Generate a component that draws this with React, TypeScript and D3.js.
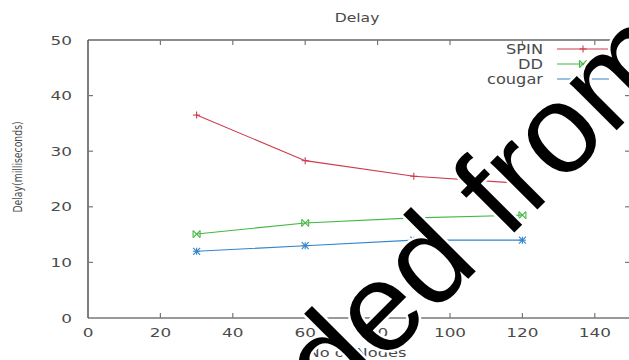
import React from 'react';
import * as d3 from 'd3';

// values
const nodes = [30, 60, 90, 120];
const spin = [36.5, 28.3, 25.5, 24.2];
const dd = [15.1, 17.1, 18.0, 18.5];
const cougar = [12.0, 13.0, 14.0, 14.0];

const xTicks = [0, 20, 40, 60, 80, 100, 120, 140];
const yTicks = [0, 10, 20, 30, 40, 50];

const series = [
  { name: 'SPIN', values: spin, color: '#cc3b4c', marker: 'plus' },
  { name: 'DD', values: dd, color: '#44b844', marker: 'cross' },
  { name: 'cougar', values: cougar, color: '#3385cc', marker: 'star' },
];

const W = 629;
const H = 360;
const font = '"DejaVu Sans", Verdana, sans-serif';
const textColor = '#4a4a4a';

// the source image is stretched sideways, so text is widened a little
const T = ({ x, y, size, anchor = 'start', sx = 1.35, children }: any) => (
  <text
    transform={`translate(${x},${y}) scale(${sx},1)`}
    textAnchor={anchor}
    fontSize={size}
    fill={textColor}
  >
    {children}
  </text>
);

const Marker = ({ type, x, y, color }: { type: string; x: number; y: number; color: string }) => {
  const s = 3.5;
  if (type === 'plus') {
    return (
      <g stroke={color} strokeWidth={1.1}>
        <line x1={x - s} y1={y} x2={x + s} y2={y} />
        <line x1={x} y1={y - s} x2={x} y2={y + s} />
      </g>
    );
  }
  if (type === 'cross') {
    return (
      <g stroke={color} strokeWidth={1.1}>
        <line x1={x - s} y1={y - s} x2={x + s} y2={y + s} />
        <line x1={x - s} y1={y + s} x2={x + s} y2={y - s} />
        <line x1={x - s} y1={y - s} x2={x - s} y2={y + s} />
        <line x1={x + s} y1={y - s} x2={x + s} y2={y + s} />
      </g>
    );
  }
  return (
    <g stroke={color} strokeWidth={1.1}>
      <line x1={x - s} y1={y} x2={x + s} y2={y} />
      <line x1={x} y1={y - s} x2={x} y2={y + s} />
      <line x1={x - s} y1={y - s} x2={x + s} y2={y + s} />
      <line x1={x - s} y1={y + s} x2={x + s} y2={y - s} />
    </g>
  );
};

export default function App() {
  const x = d3.scaleLinear().domain([0, 150]).range([88, 631]);
  const y = d3.scaleLinear().domain([0, 50]).range([318, 40]);

  const line = d3
    .line<number>()
    .x((_, i) => x(nodes[i]))
    .y((d) => y(d));

  const axisColor = '#777';

  return (
    <svg
      width={W}
      height={H}
      style={{ position: 'absolute', left: 0, top: 0, background: '#fff' }}
      fontFamily={font}
    >
      <rect width={W} height={H} fill="#fff" />

      {/* frame */}
      <g stroke={axisColor} strokeWidth={1.5} fill="none">
        <line x1={x(0)} y1={y(0)} x2={x(150)} y2={y(0)} />
        <line x1={x(0)} y1={y(50)} x2={x(150)} y2={y(50)} stroke="#666" />
        <line x1={x(0)} y1={y(0)} x2={x(0)} y2={y(50)} stroke="#555" />
        <line x1={x(150)} y1={y(0)} x2={x(150)} y2={y(50)} />
      </g>

      {/* x ticks */}
      {xTicks.map((t) => (
        <g key={'x' + t}>
          {t > 0 && (
            <>
              <line x1={x(t)} x2={x(t)} y1={y(0)} y2={y(0) - 5} stroke={axisColor} strokeWidth={1.2} />
              <line x1={x(t)} x2={x(t)} y1={y(50)} y2={y(50) + 5} stroke={axisColor} strokeWidth={1.2} />
            </>
          )}
          <T x={x(t)} y={337} size={12.5} anchor="middle">
            {t}
          </T>
        </g>
      ))}

      {/* y ticks */}
      {yTicks.map((t) => (
        <g key={'y' + t}>
          {t > 0 && t < 50 && (
            <>
              <line x1={x(0)} x2={x(0) + 5} y1={y(t)} y2={y(t)} stroke={axisColor} strokeWidth={1.2} />
              <line x1={x(150)} x2={x(150) - 6} y1={y(t)} y2={y(t)} stroke={axisColor} strokeWidth={1.2} />
            </>
          )}
          <T x={72} y={y(t) + 4.5} size={12.5} anchor="end">
            {t}
          </T>
        </g>
      ))}

      {/* titles */}
      <T x={357} y={22} size={12} anchor="middle" sx={1.3}>
        Delay
      </T>
      <T x={357} y={357} size={12.5} anchor="middle" sx={1.3}>
        No of Nodes
      </T>
      <text
        transform="translate(22,167) rotate(-90) scale(1,1.3)"
        textAnchor="middle"
        fontSize={9.3}
        fill={textColor}
      >
        Delay(milliseconds)
      </text>

      {/* series */}
      {series.map((s) => (
        <g key={s.name}>
          <path d={line(s.values) || ''} fill="none" stroke={s.color} strokeWidth={1.1} />
          {s.values.map((v, i) => (
            <Marker key={i} type={s.marker} x={x(nodes[i])} y={y(v)} color={s.color} />
          ))}
        </g>
      ))}

      {/* legend */}
      {series.map((s, i) => {
        const ly = 49 + i * 15;
        return (
          <g key={'lg' + s.name}>
            <T x={543} y={ly + 5} size={13.5} anchor="end" sx={1.2}>
              {s.name}
            </T>
            <line x1={557} x2={609} y1={ly} y2={ly} stroke={s.color} strokeWidth={1.1} />
            <Marker type={s.marker} x={583} y={ly} color={s.color} />
          </g>
        );
      })}

      {/* watermark */}
      <text
        transform="translate(333,414) rotate(-45)"
        fontFamily='"Liberation Sans", Arial, sans-serif'
        fontSize={126}
        fill="#000"
        stroke="#fff"
        strokeWidth={5}
        paintOrder="stroke"
      >
        ded from
      </text>
    </svg>
  );
}
